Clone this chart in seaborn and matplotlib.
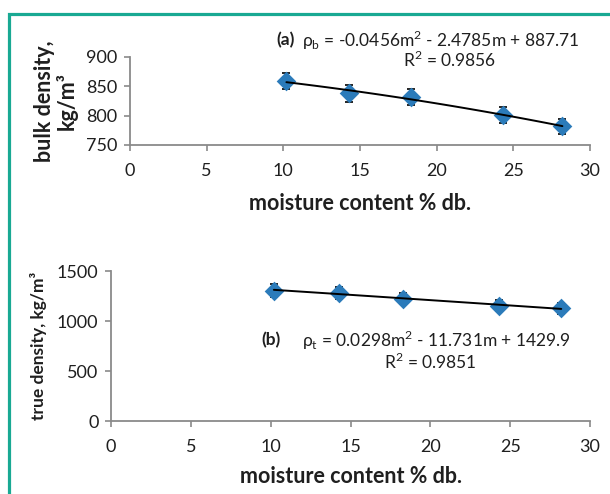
import matplotlib
matplotlib.use("Agg")
import matplotlib.pyplot as plt
import matplotlib.patches as patches
import seaborn as sns

# values: moisture content (% d.b.) vs density
moisture = [10.2, 14.3, 18.3, 24.3, 28.2]
bulk_density = [859, 838, 832, 801, 782]
bulk_err = [13, 14, 13, 13, 13]
true_density = [1305, 1283, 1222, 1155, 1126]
true_err = [62, 58, 55, 55, 52]

x_ticks = [0, 5, 10, 15, 20, 25, 30]
bulk_ticks = [750, 800, 850, 900]
true_ticks = [0, 500, 1000, 1500]

eq_a = r"ρ$_\mathregular{b}$ = -0.0456m$^\mathregular{2}$ - 2.4785m + 887.71"
r2_a = r"R$^\mathregular{2}$ = 0.9856"
eq_b = r"ρ$_\mathregular{t}$ = 0.0298m$^\mathregular{2}$ - 11.731m + 1429.9"
r2_b = r"R$^\mathregular{2}$ = 0.9851"

sns.set_style("ticks")
plt.rcParams['font.family'] = ['Lato', 'DejaVu Sans']
plt.rcParams['mathtext.fontset'] = 'custom'
plt.rcParams['mathtext.rm'] = 'Lato'

blue = "#2b7bba"
grey = "#8a8a8a"
txt = "#1f1f1f"

fig = plt.figure(figsize=(6.1, 4.94), dpi=100)
ax1 = fig.add_axes([130 / 610, 1 - 145 / 494, 460 / 610, 88 / 494])
ax2 = fig.add_axes([111 / 610, 1 - 421 / 494, 479 / 610, 150 / 494])


def draw_panel(ax, y, err, ylim, yticks):
    # error bars under the diamonds, trendline on top
    ax.errorbar(moisture, y, yerr=err, fmt="none", ecolor="black",
                elinewidth=1.2, capsize=3.2, capthick=1.2, zorder=1.5)
    sns.regplot(x=moisture, y=y, order=2, ci=None, ax=ax, marker="D",
                scatter_kws={"s": 100, "color": blue, "zorder": 2,
                             "linewidths": 0, "alpha": 1},
                line_kws={"color": "black", "lw": 1.4, "zorder": 4})
    ax.set_xlim(0, 30)
    ax.set_ylim(*ylim)
    ax.set_xticks(x_ticks)
    ax.set_yticks(yticks)
    sns.despine(ax=ax)
    for s in ["left", "bottom"]:
        ax.spines[s].set_color(grey)
        ax.spines[s].set_linewidth(1.3)
    ax.tick_params(direction="out", length=4, width=1.2, color=grey,
                   labelsize=13, labelcolor=txt)
    ax.tick_params(axis="y", pad=5)
    ax.tick_params(axis="x", pad=9)


draw_panel(ax1, bulk_density, bulk_err, (750, 900), bulk_ticks)
draw_panel(ax2, true_density, true_err, (0, 1500), true_ticks)

ax1.set_xlabel("moisture content % db.", fontsize=15.5, fontweight="bold",
               color=txt, labelpad=10)
ax1.set_ylabel("bulk density,\nkg/m³", fontsize=15.5, fontweight="bold",
               color=txt, labelpad=6, linespacing=1.05)
ax2.set_xlabel("moisture content % db.", fontsize=15.5, fontweight="bold",
               color=txt, labelpad=8)
ax2.set_ylabel("true density, kg/m³", fontsize=12.5, fontweight="bold",
               color=txt, labelpad=7)

# trendline equations
fig.text(276 / 610, 1 - 40 / 494, "(a)", fontsize=12.5, fontweight="bold",
         color=txt, va="center")
fig.text(302 / 610, 1 - 40 / 494, eq_a, fontsize=12.5, color=txt, va="center")
fig.text(450 / 610, 1 - 60 / 494, r2_a, fontsize=12.5, color=txt,
         va="center", ha="center")
fig.text(261 / 610, 1 - 340 / 494, "(b)", fontsize=12.5, fontweight="bold",
         color=txt, va="center")
fig.text(302 / 610, 1 - 340 / 494, eq_b, fontsize=12.5, color=txt, va="center")
fig.text(430 / 610, 1 - 362 / 494, r2_b, fontsize=12.5, color=txt,
         va="center", ha="center")

# teal frame (cut off at right and bottom)
frame = patches.Rectangle((9 / 610, -0.1), 1.2, 1.1 - 14 / 494,
                          transform=fig.transFigure, fill=False,
                          edgecolor="#19a993", linewidth=2.3, clip_on=False)
fig.add_artist(frame)

fig.savefig("out.png", dpi=100)
